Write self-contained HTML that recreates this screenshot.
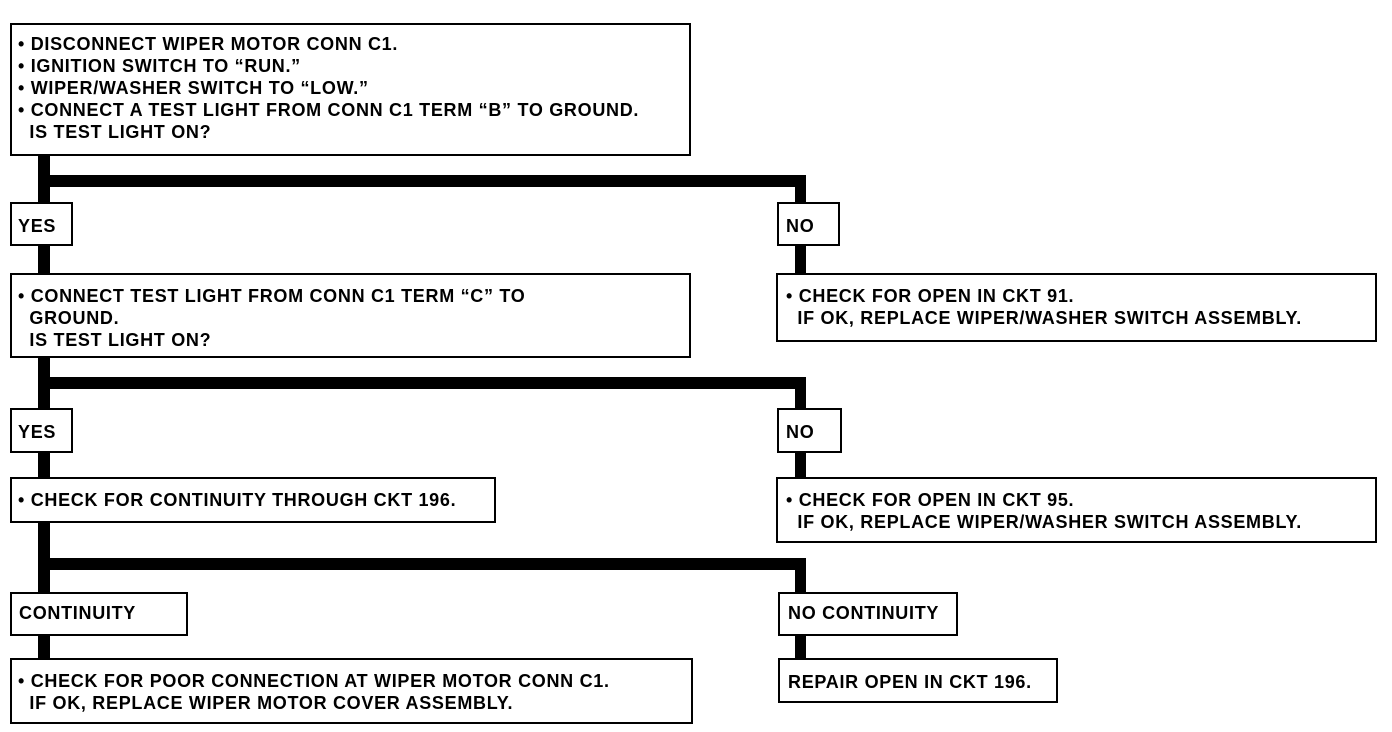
<!DOCTYPE html>
<html><head><meta charset="utf-8"><style>
body{margin:0;width:1392px;height:732px;background:#fff;position:relative;overflow:hidden;font-family:"Liberation Sans",sans-serif;font-weight:bold;font-size:18px;letter-spacing:0.7px;color:#000}
.b{position:absolute;border:2.5px solid #000;box-sizing:border-box;background:#fff}
.t{position:absolute;white-space:pre;line-height:22px}
.l{position:absolute;background:#000}
</style></head><body>
<div class="l" style="left:38px;top:150px;width:12px;height:515px"></div>
<div class="l" style="left:38px;top:175px;width:768px;height:12px"></div>
<div class="l" style="left:795px;top:175px;width:11px;height:100px"></div>
<div class="l" style="left:38px;top:377px;width:768px;height:12px"></div>
<div class="l" style="left:795px;top:377px;width:11px;height:100px"></div>
<div class="l" style="left:38px;top:558px;width:768px;height:12px"></div>
<div class="l" style="left:795px;top:558px;width:11px;height:100px"></div>

<div class="b" style="left:10px;top:23px;width:681px;height:133px"></div>
<div class="t" style="left:18px;top:33px">• DISCONNECT WIPER MOTOR CONN C1.
• IGNITION SWITCH TO “RUN.”
• WIPER/WASHER SWITCH TO “LOW.”
• CONNECT A TEST LIGHT FROM CONN C1 TERM “B” TO GROUND.
  IS TEST LIGHT ON?</div>

<div class="b" style="left:10px;top:202px;width:63px;height:44px"></div>
<div class="t" style="left:18px;top:215px">YES</div>
<div class="b" style="left:777px;top:202px;width:63px;height:44px"></div>
<div class="t" style="left:786px;top:215px">NO</div>

<div class="b" style="left:10px;top:273px;width:681px;height:85px"></div>
<div class="t" style="left:18px;top:285px">• CONNECT TEST LIGHT FROM CONN C1 TERM “C” TO
  GROUND.
  IS TEST LIGHT ON?</div>
<div class="b" style="left:776px;top:273px;width:601px;height:69px"></div>
<div class="t" style="left:786px;top:285px">• CHECK FOR OPEN IN CKT 91.
  IF OK, REPLACE WIPER/WASHER SWITCH ASSEMBLY.</div>

<div class="b" style="left:10px;top:408px;width:63px;height:45px"></div>
<div class="t" style="left:18px;top:421px">YES</div>
<div class="b" style="left:777px;top:408px;width:65px;height:45px"></div>
<div class="t" style="left:786px;top:421px">NO</div>

<div class="b" style="left:10px;top:477px;width:486px;height:46px"></div>
<div class="t" style="left:18px;top:489px">• CHECK FOR CONTINUITY THROUGH CKT 196.</div>
<div class="b" style="left:776px;top:477px;width:601px;height:66px"></div>
<div class="t" style="left:786px;top:489px">• CHECK FOR OPEN IN CKT 95.
  IF OK, REPLACE WIPER/WASHER SWITCH ASSEMBLY.</div>

<div class="b" style="left:10px;top:592px;width:178px;height:44px"></div>
<div class="t" style="left:19px;top:602px">CONTINUITY</div>
<div class="b" style="left:778px;top:592px;width:180px;height:44px"></div>
<div class="t" style="left:788px;top:602px">NO CONTINUITY</div>

<div class="b" style="left:10px;top:658px;width:683px;height:66px"></div>
<div class="t" style="left:18px;top:670px">• CHECK FOR POOR CONNECTION AT WIPER MOTOR CONN C1.
  IF OK, REPLACE WIPER MOTOR COVER ASSEMBLY.</div>
<div class="b" style="left:778px;top:658px;width:280px;height:45px"></div>
<div class="t" style="left:788px;top:671px">REPAIR OPEN IN CKT 196.</div>
</body></html>
